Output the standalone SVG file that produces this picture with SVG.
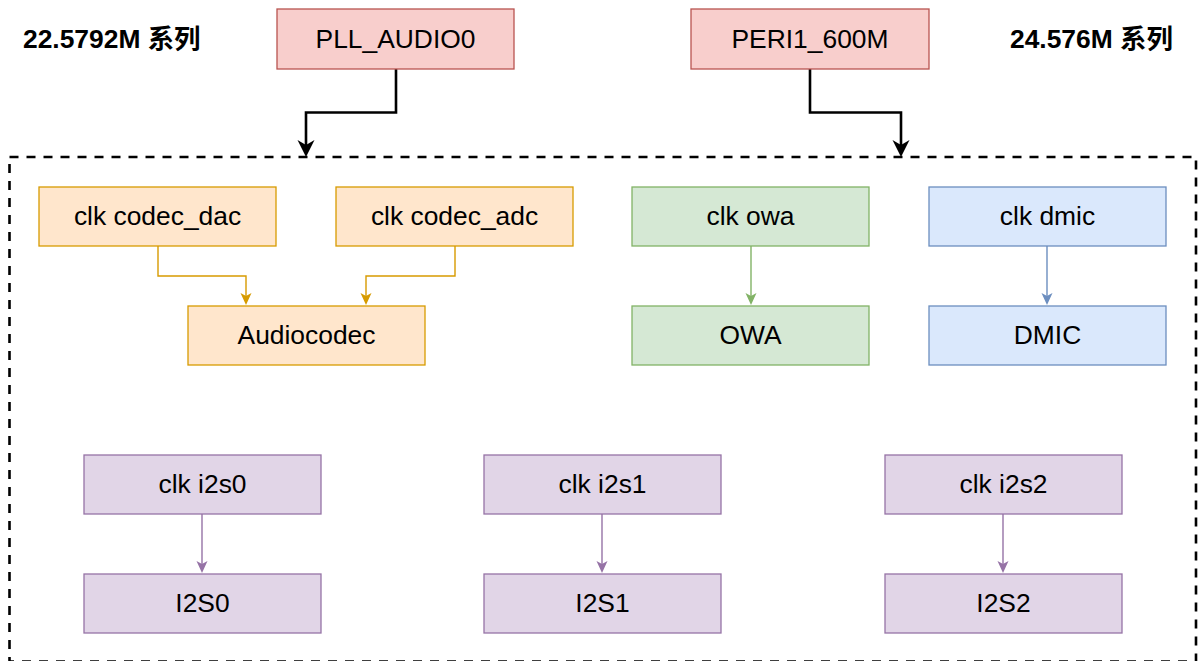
<svg xmlns="http://www.w3.org/2000/svg" width="1198" height="661" viewBox="0 0 1198 661">
<style>
text{font-family:"Liberation Sans",Arial,sans-serif;font-size:26.4px;fill:#000;text-anchor:middle;dominant-baseline:central}
.title{font-family:"Liberation Sans","Noto Sans CJK SC",sans-serif;font-weight:bold;text-anchor:start;font-size:26.4px}
.red{fill:#f8cecc;stroke:#b85450;stroke-width:1.3}
.org{fill:#ffe6cc;stroke:#d79b00;stroke-width:1.3}
.grn{fill:#d5e8d4;stroke:#82b366;stroke-width:1.3}
.blu{fill:#dae8fc;stroke:#6c8ebf;stroke-width:1.3}
.pur{fill:#e1d5e7;stroke:#9673a6;stroke-width:1.3}
.c{fill:none;stroke-width:1.4}
</style>
<defs>
<path id="ah" d="M-5.5,-12 L0,-9 L5.5,-12 L0,0 Z"/>
<path id="ahb" d="M-8.5,-17 L0,-12 L8.5,-17 L0,0 Z"/>
</defs>
<rect x="9.5" y="157" width="1186.5" height="504.5" fill="none" stroke="#000" stroke-width="2.6" stroke-dasharray="9 8"/>
<g id="title-left"><text class="title" x="23" y="38.5">22.5792M 系列</text></g>
<g id="title-right"><text class="title" x="1010" y="38.5">24.576M 系列</text></g>
<g id="connectors">
<path d="M396,69 V112.5 H306 V145" fill="none" stroke="#000" stroke-width="2.6"/>
<use href="#ahb" x="306" y="157" fill="#000"/>
<path d="M810,69 V112.5 H901 V145" fill="none" stroke="#000" stroke-width="2.6"/>
<use href="#ahb" x="901" y="157" fill="#000"/>
<path class="c" stroke="#d79b00" d="M158,246 V276 H246 V297"/>
<use href="#ah" x="246" y="305" fill="#d79b00"/>
<path class="c" stroke="#d79b00" d="M455,246 V276 H366 V297"/>
<use href="#ah" x="366" y="305" fill="#d79b00"/>
<path class="c" stroke="#82b366" d="M751,246 V297"/>
<use href="#ah" x="751" y="305" fill="#82b366"/>
<path class="c" stroke="#6c8ebf" d="M1047,246 V297"/>
<use href="#ah" x="1047" y="305" fill="#6c8ebf"/>
<path class="c" stroke="#9673a6" d="M202,514 V565"/>
<use href="#ah" x="202" y="573" fill="#9673a6"/>
<path class="c" stroke="#9673a6" d="M602,514 V565"/>
<use href="#ah" x="602" y="573" fill="#9673a6"/>
<path class="c" stroke="#9673a6" d="M1003,514 V565"/>
<use href="#ah" x="1003" y="573" fill="#9673a6"/>
</g>
<g id="pll_audio0"><rect class="red" x="277" y="9" width="237" height="60"/><text x="395.5" y="38.5">PLL_AUDIO0</text></g>
<g id="peri1_600m"><rect class="red" x="691" y="9" width="238" height="60"/><text x="810" y="38.5">PERI1_600M</text></g>
<g id="clk_codec_dac"><rect class="org" x="39" y="187" width="237" height="59"/><text x="157.5" y="216">clk codec_dac</text></g>
<g id="clk_codec_adc"><rect class="org" x="336" y="187" width="237" height="59"/><text x="454.5" y="216">clk codec_adc</text></g>
<g id="audiocodec"><rect class="org" x="188" y="306" width="237" height="59"/><text x="306.5" y="335">Audiocodec</text></g>
<g id="clk_owa"><rect class="grn" x="632" y="187" width="237" height="59"/><text x="750.5" y="216">clk owa</text></g>
<g id="owa"><rect class="grn" x="632" y="306" width="237" height="59"/><text x="750.5" y="335">OWA</text></g>
<g id="clk_dmic"><rect class="blu" x="929" y="187" width="237" height="59"/><text x="1047.5" y="216">clk dmic</text></g>
<g id="dmic"><rect class="blu" x="929" y="306" width="237" height="59"/><text x="1047.5" y="335">DMIC</text></g>
<g id="clk_i2s0"><rect class="pur" x="84" y="455" width="237" height="59"/><text x="202.5" y="484">clk i2s0</text></g>
<g id="i2s0"><rect class="pur" x="84" y="574" width="237" height="59"/><text x="202.5" y="603">I2S0</text></g>
<g id="clk_i2s1"><rect class="pur" x="484" y="455" width="237" height="59"/><text x="602.5" y="484">clk i2s1</text></g>
<g id="i2s1"><rect class="pur" x="484" y="574" width="237" height="59"/><text x="602.5" y="603">I2S1</text></g>
<g id="clk_i2s2"><rect class="pur" x="885" y="455" width="237" height="59"/><text x="1003.5" y="484">clk i2s2</text></g>
<g id="i2s2"><rect class="pur" x="885" y="574" width="237" height="59"/><text x="1003.5" y="603">I2S2</text></g>
</svg>
